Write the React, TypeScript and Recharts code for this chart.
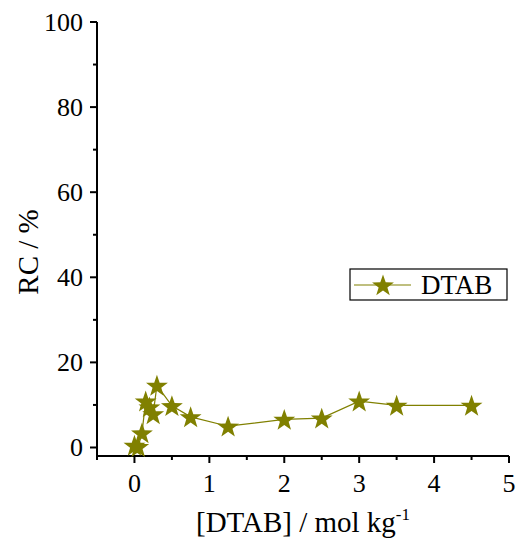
import { ScatterChart, Scatter, XAxis, YAxis, Legend } from "recharts";

// [DTAB] / mol kg-1 vs RC / %
const conc = [0, 0.05, 0.1, 0.15, 0.2, 0.25, 0.3, 0.5, 0.75, 1.25, 2, 2.5, 3, 3.5, 4.5];
const rc = [0.5, 0.2, 3.4, 10.9, 9.5, 7.9, 14.6, 9.8, 7.2, 5.0, 6.6, 6.9, 10.9, 9.9, 9.9];
const xTicks = [-0.5, 0, 0.5, 1, 1.5, 2, 2.5, 3, 3.5, 4, 4.5, 5];
const yTicks = [0, 10, 20, 30, 40, 50, 60, 70, 80, 90, 100];
const seriesName = "DTAB";

const OLIVE = "#808000";
const FAMILY = "'Liberation Serif'";
const serif = { fontFamily: FAMILY };

const data = conc.map((x, i) => ({ x, y: rc[i] }));

function starPath(cx: number, cy: number, r: number, ri: number) {
  const pts: string[] = [];
  for (let i = 0; i < 10; i++) {
    const rad = i % 2 === 0 ? r : ri;
    const a = -Math.PI / 2 + (i * Math.PI) / 5;
    pts.push(`${(cx + rad * Math.cos(a)).toFixed(2)},${(cy + rad * Math.sin(a)).toFixed(2)}`);
  }
  return `M${pts.join("L")}Z`;
}

function StarShape(props: { cx?: number; cy?: number }) {
  const { cx = 0, cy = 0 } = props;
  return <path d={starPath(cx, cy + 1, 11.5, 4.6)} fill={OLIVE} />;
}

function XTick(props: { x?: number; y?: number; payload?: { value: number } }) {
  const { x = 0, y = 0, payload } = props;
  const v = payload?.value ?? 0;
  const major = Number.isInteger(v);
  return (
    <g>
      <line x1={x} x2={x} y1={y} y2={y + (major ? 7 : 4)} stroke="#000" strokeWidth={2} />
      {major && (
        <text x={x} y={y + 36} textAnchor="middle" style={serif} fontSize={26} fill="#000">
          {v}
        </text>
      )}
    </g>
  );
}

function YTick(props: { x?: number; y?: number; payload?: { value: number } }) {
  const { x = 0, y = 0, payload } = props;
  const v = payload?.value ?? 0;
  const major = v % 20 === 0;
  return (
    <g>
      <line x1={x - (major ? 7 : 4)} x2={x} y1={y} y2={y} stroke="#000" strokeWidth={2} />
      {major && (
        <text x={x - 14} y={y + 9} textAnchor="end" style={serif} fontSize={26} fill="#000">
          {v}
        </text>
      )}
    </g>
  );
}

function LegendBox() {
  return (
    <svg width={160} height={34} style={{ display: "block" }}>
      <rect x={1} y={1} width={157} height={31} fill="#fff" stroke="#000" strokeWidth={1.2} />
      <line x1={5} x2={62} y1={17} y2={17} stroke={OLIVE} strokeWidth={1.2} />
      <path d={starPath(34, 18, 11.5, 4.6)} fill={OLIVE} />
      <text x={72} y={26} style={serif} fontSize={27} fill="#000">
        {seriesName}
      </text>
    </svg>
  );
}

export default function App() {
  return (
    <div style={{ position: "absolute", left: 0, top: 0, background: "#fff" }}>
      <style>{`text, tspan { font-family: "Liberation Serif", "Times New Roman", serif !important; }`}</style>
      <ScatterChart width={516} height={543} margin={{ top: 22, right: 7, bottom: 27, left: 0 }}>
        <XAxis
          xAxisId="main"
          dataKey="x"
          type="number"
          domain={[-0.5, 5]}
          ticks={xTicks}
          interval={0}
          height={60}
          tickSize={0}
          tickMargin={0}
          tick={<XTick />}
          axisLine={{ stroke: "#000", strokeWidth: 2 }}
          label={{
            content: () => (
              <text x={303} y={532} textAnchor="middle" style={serif} fontSize={29} fill="#000">
                [DTAB] / mol kg
                <tspan dy={-12} fontSize={17}>-1</tspan>
              </text>
            ),
          }}
        />
        <XAxis
          xAxisId="top"
          orientation="top"
          type="number"
          domain={[-0.5, 5]}
          height={0}
          tick={false}
          tickLine={false}
          axisLine={{ stroke: "#000", strokeWidth: 2 }}
        />
        <YAxis
          yAxisId="main"
          dataKey="y"
          type="number"
          domain={[-2, 100]}
          ticks={yTicks}
          interval={0}
          width={97}
          tickSize={0}
          tickMargin={0}
          tick={<YTick />}
          axisLine={{ stroke: "#000", strokeWidth: 2 }}
          label={{
            content: () => (
              <text
                x={38}
                y={252}
                transform="rotate(-90 38 252)"
                textAnchor="middle"
                style={serif}
                fontSize={29}
                fill="#000"
              >
                RC / %
              </text>
            ),
          }}
        />
        <YAxis
          yAxisId="right"
          orientation="right"
          type="number"
          domain={[-2, 100]}
          width={0}
          tick={false}
          tickLine={false}
          axisLine={{ stroke: "#000", strokeWidth: 2 }}
        />
        <Legend
          layout="horizontal"
          verticalAlign="middle"
          align="center"
          content={() => <LegendBox />}
          wrapperStyle={{ position: "absolute", left: 349, top: 268, width: 160, height: 34 }}
        />
        <Scatter
          name={seriesName}
          data={data}
          xAxisId="main"
          yAxisId="main"
          fill={OLIVE}
          line={{ stroke: OLIVE, strokeWidth: 1.2 }}
          shape={<StarShape />}
          isAnimationActive={false}
        />
      </ScatterChart>
    </div>
  );
}
